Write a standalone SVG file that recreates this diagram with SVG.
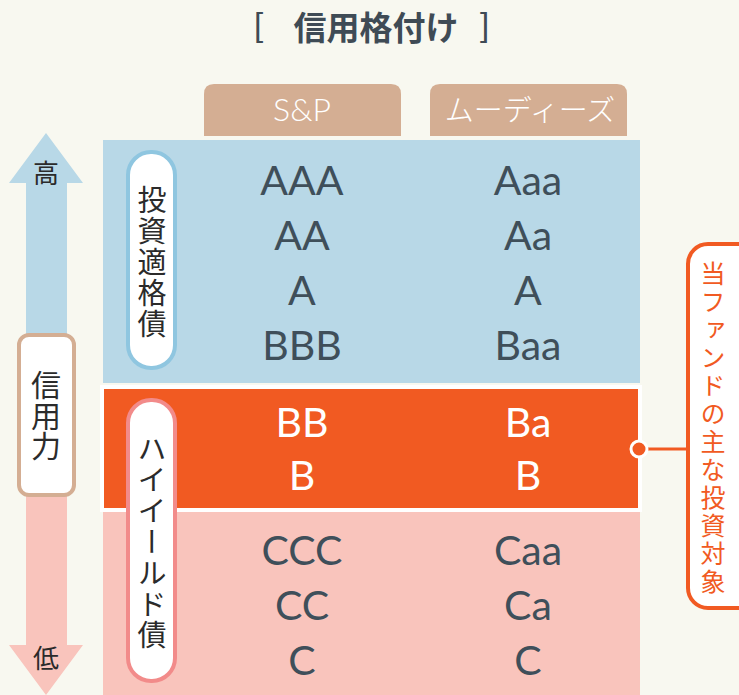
<svg xmlns="http://www.w3.org/2000/svg" width="739" height="695" viewBox="0 0 739 695">
<style>
.title{font-family:"Noto Sans CJK JP","Noto Sans",sans-serif;font-weight:700;font-size:33px;fill:#3f4b55}
.brk{font-family:"Liberation Sans",sans-serif;font-weight:400;font-size:33px;fill:#3f4b55}
.tab{fill:#d4ae93}
.tabtxt{font-family:"Lato","Noto Sans CJK JP",sans-serif;font-weight:300;fill:#ffffff;text-anchor:middle}
.rate{font-family:"Lato","Liberation Sans",sans-serif;font-size:41px;fill:#3f4f5a;text-anchor:middle}
.rate.w{fill:#ffffff}
.vt{font-family:"Noto Sans CJK JP",sans-serif;writing-mode:vertical-rl;fill:#2b2b2b;text-anchor:start}
.cjk{font-family:"Noto Sans CJK JP",sans-serif;fill:#2b2b2b;text-anchor:middle}
</style>
<rect x="0" y="0" width="739" height="695" fill="#f8f8f0"/>

<g id="title">
<text class="brk" x="254" y="36">[</text>
<text class="title" x="376" y="40" text-anchor="middle">信用格付け</text>
<text class="brk" x="480" y="36">]</text>
</g>

<g id="tab-sp">
<path class="tab" d="M204 136 V94 Q204 84 214 84 H391 Q401 84 401 94 V136 Z"/>
<text class="tabtxt" x="302" y="121" font-size="32">S&amp;P</text>
</g>
<g id="tab-moodys">
<path class="tab" d="M430 136 V94 Q430 84 440 84 H617 Q627 84 627 94 V136 Z"/>
<text class="tabtxt" x="530" y="121" font-size="29" style="font-family:'Noto Sans CJK JP',sans-serif">ムーディーズ</text>
</g>

<g id="band-investment">
<rect x="103" y="140" width="537" height="243" fill="#b8d8e7"/>
<text class="rate" x="302" y="195">AAA</text>
<text class="rate" x="302" y="250">AA</text>
<text class="rate" x="302" y="305">A</text>
<text class="rate" x="302" y="360">BBB</text>
<text class="rate" x="528" y="195">Aaa</text>
<text class="rate" x="528" y="250">Aa</text>
<text class="rate" x="528" y="305">A</text>
<text class="rate" x="528" y="360">Baa</text>
</g>

<g id="band-pink">
<rect x="103" y="512" width="537" height="183" fill="#f9c4bc"/>
<text class="rate" x="302" y="565">CCC</text>
<text class="rate" x="302" y="620">CC</text>
<text class="rate" x="302" y="675">C</text>
<text class="rate" x="528" y="565">Caa</text>
<text class="rate" x="528" y="620">Ca</text>
<text class="rate" x="528" y="675">C</text>
</g>

<g id="band-highyield">
<rect x="102" y="387" width="538" height="123" fill="#f15a22" stroke="#ffffff" stroke-width="4"/>
<text class="rate w" x="302" y="437">BB</text>
<text class="rate w" x="302" y="490">B</text>
<text class="rate w" x="528" y="437">Ba</text>
<text class="rate w" x="528" y="490">B</text>
</g>

<g id="pill-investment">
<rect x="128" y="152" width="47" height="216" rx="23" fill="#ffffff" stroke="#8fc6e0" stroke-width="4"/>
<text class="vt" x="152" y="185 216 247 278 309" font-size="29">投資適格債</text>
</g>

<g id="pill-highyield">
<rect x="128" y="400" width="47" height="281" rx="23" fill="#ffffff" stroke="#f28b8a" stroke-width="4"/>
<text class="vt" x="152" y="434 465 496 527 558 589 620" font-size="29">ハイイールド債</text>
</g>

<g id="arrow-up">
<polygon points="46,133 83,183 67,183 67,340 26,340 26,183 9,183" fill="#b8d8e7"/>
<text class="cjk" x="46" y="183" font-size="26">高</text>
</g>
<g id="arrow-down">
<polygon points="26,490 67,490 67,645 83,645 46,695 9,645 26,645" fill="#f9c4bc"/>
<text class="cjk" x="46" y="668" font-size="26">低</text>
</g>

<g id="credit-box">
<rect x="19" y="335" width="55" height="160" rx="10" fill="#ffffff" stroke="#d4ae93" stroke-width="4"/>
<text class="vt" x="46" y="370 401 431" font-size="30">信用力</text>
</g>

<g id="connectors">
<line x1="645" y1="449" x2="688" y2="449" stroke="#f15a22" stroke-width="3"/>
<circle cx="639" cy="449" r="8" fill="#f15a22" stroke="#ffffff" stroke-width="3"/>
</g>

<g id="target-box">
<rect x="688" y="244" width="90" height="364" rx="20" fill="#ffffff" stroke="#f15a22" stroke-width="4"/>
<text class="vt" x="713" y="261 289 317 345 373 401 429 457 485 513 541 569" font-size="25" style="fill:#f15a22">当ファンドの主な投資対象</text>
</g>
</svg>
